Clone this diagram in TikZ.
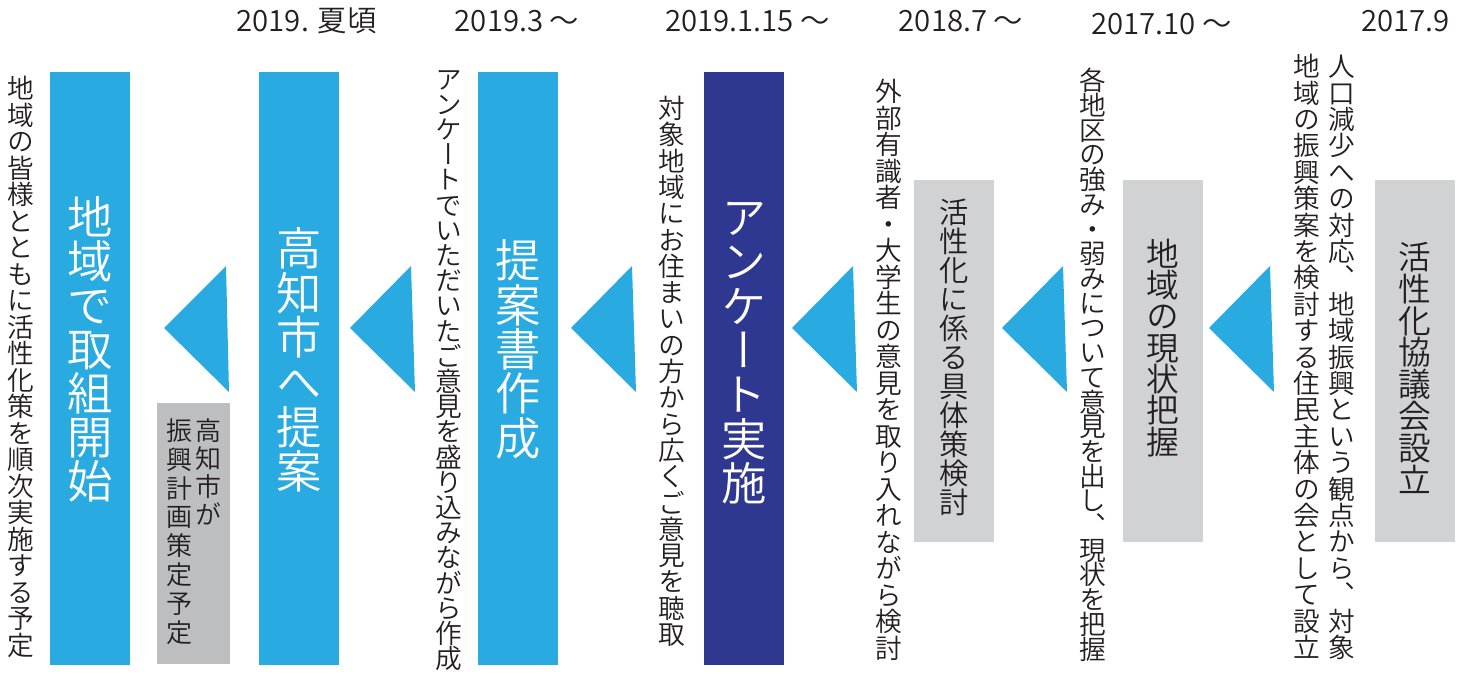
\documentclass[tikz,border=0pt]{standalone}
\usepackage{fontspec}
\IfFontExistsTF{Noto Sans CJK JP DemiLight}{%
  \setmainfont{Noto Sans CJK JP DemiLight}%
  \newfontfamily\jpv[RawFeature=+vert]{Noto Sans CJK JP DemiLight}%
}{%
  \setmainfont{Noto Sans CJK JP}%
  \newfontfamily\jpv[RawFeature=+vert]{Noto Sans CJK JP}%
}
\definecolor{cblue}{HTML}{29ABE2}
\definecolor{cnavy}{HTML}{2E3890}
\definecolor{clgray}{HTML}{D1D2D4}
\definecolor{cmgray}{HTML}{BCBEC0}
\definecolor{ctext}{HTML}{231F20}
\ExplSyntaxOn
\dim_new:N \l_vt_pitch_dim
\NewDocumentCommand\vcol{mm}{
  \dim_set:Nn \l_vt_pitch_dim {#1pt*3/4}
  \vbox{\offinterlineskip
    \tl_map_inline:nn {#2}{
      \hbox_to_wd:nn {1.1em}{\hss
        \vrule width 0pt height \dim_eval:n {0.38em + \l_vt_pitch_dim/2}
               depth \dim_eval:n {\l_vt_pitch_dim/2 - 0.38em}
        ##1\hss}
    }
  }
}
\ExplSyntaxOff
\tikzset{
  bluebar/.style={fill=cblue},
  navybar/.style={fill=cnavy},
  lgbox/.style={fill=clgray},
  mgbox/.style={fill=cmgray},
  arrowtri/.style={fill=cblue},
  wlabel/.style={text=white, font=\jpv\fontsize{34pt}{34pt}\selectfont, inner sep=0pt, anchor=north},
  glabel/.style={text=ctext, font=\jpv\fontsize{24.5pt}{24.5pt}\selectfont, inner sep=0pt, anchor=north},
  klabel/.style={text=ctext, font=\jpv\fontsize{19.5pt}{19.5pt}\selectfont, inner sep=0pt, anchor=north},
  desc/.style={text=ctext, font=\jpv\fontsize{20pt}{20pt}\selectfont, inner sep=0pt, anchor=north},
  datelbl/.style={text=ctext, font=\fontsize{22pt}{22pt}\selectfont, inner sep=0pt, anchor=base},
}
\begin{document}
\begin{tikzpicture}[x=0.75pt,y=-0.75pt]
\useasboundingbox[fill=white] (0,0) rectangle (1466,677);
% bars and boxes
\fill[bluebar] (50,72) rectangle (130,665);
\fill[mgbox] (157,403) rectangle (230,664);
\fill[bluebar] (259,72) rectangle (339,665);
\fill[bluebar] (478,72) rectangle (558,665);
\fill[navybar] (704,72) rectangle (784,665);
\fill[lgbox] (914,180) rectangle (994,542);
\fill[lgbox] (1123,180) rectangle (1203,542);
\fill[lgbox] (1375,180) rectangle (1455,542);
% arrow triangles
\fill[arrowtri] (164,328) -- (226,266) -- (229,392) -- cycle;
\fill[arrowtri] (350,328) -- (411,266) -- (415,392) -- cycle;
\fill[arrowtri] (571,328) -- (632,266) -- (636,392) -- cycle;
\fill[arrowtri] (792,328) -- (853,266) -- (857,392) -- cycle;
\fill[arrowtri] (1002,328) -- (1063,266) -- (1067,392) -- cycle;
\fill[arrowtri] (1209,328) -- (1270,266) -- (1274,392) -- cycle;
% dates
\node[datelbl] (d1) at (306.5,32) {2019. 夏頃};
\node[datelbl] (d2) at (517,32) {2019.3 〜};
\node[datelbl] (d3) at (747.5,32) {2019.1.15 〜};
\node[datelbl] (d4) at (961,32) {2018.7 〜};
\node[datelbl] (d5) at (1161.5,35) {2017.10 〜};
\node[datelbl] (d6) at (1405.5,32) {2017.9};
% bar labels
\node[wlabel] (t1) at (90,195) {\vcol{44}{地域で取組開始}};
\node[wlabel] (t2) at (299,226) {\vcol{44.6}{高知市へ提案}};
\node[wlabel] (t3) at (518,238) {\vcol{44.4}{提案書作成}};
\node[wlabel] (t4) at (744,195) {\vcol{44.3}{アンケート実施}};
\node[glabel, font=\jpv\fontsize{22pt}{22pt}\selectfont] (g1) at (954,198) {\vcol{29}{活性化に係る具体策検討}};
\node[glabel] (g2) at (1163,238) {\vcol{31.3}{地域の現状把握}};
\node[glabel] (g3) at (1415,241) {\vcol{31.8}{活性化協議会設立}};
\node[klabel] (k1) at (208,416) {\vcol{28}{高知市が}};
\node[klabel] (k2) at (179,416) {\vcol{28.8}{振興計画策定予定}};
% descriptions
\node[desc] (e1) at (21,75) {\vcol{26.5}{地域の皆様とともに活性化策を順次実施する予定}};
\node[desc] (e2) at (449,66) {\vcol{25.2}{アンケートでいただいたご意見を盛り込みながら作成}};
\node[desc] (e3) at (672,95) {\vcol{26.3}{対象地域にお住まいの方から広くご意見を聴取}};
\node[desc] (e4) at (889,78) {\vcol{26.5}{外部有識者・大学生の意見を取り入れながら検討}};
\node[desc] (e5) at (1093,68) {\vcol{24.7}{各地区の強み・弱みについて意見を出し、現状を把握}};
\node[desc] (e6) at (1342,53) {\vcol{26.4}{人口減少への対応、地域振興という観点から、対象}};
\node[desc] (e7) at (1307,53) {\vcol{26.4}{地域の振興策案を検討する住民主体の会として設立}};
\end{tikzpicture}
\end{document}
